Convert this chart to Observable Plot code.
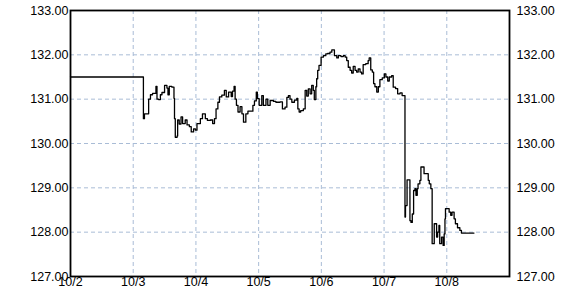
<!DOCTYPE html>
<html>
<head>
<meta charset="utf-8">
<script src="https://cdn.jsdelivr.net/npm/d3@7"></script>
<script src="https://cdn.jsdelivr.net/npm/@observablehq/plot@0.6"></script>
<style>
  html, body { margin: 0; padding: 0; background: #fff; }
  #chart svg { display: block; }
</style>
</head>
<body>
<div id="chart"></div>
<script>
// Hours since 10/2 00:00
const hours = [
  0.0, 27.9, 28.3, 29.9, 30.6, 31.4, 32.7, 33.1, 33.7, 34.4, 35.0, 36.0, 36.9, 37.3, 37.8, 38.8,
  39.6, 39.8, 40.1, 40.8, 41.0, 41.6, 42.3, 42.9, 43.9, 44.6, 45.5, 46.2, 47.1, 47.8, 48.4, 49.7,
  50.5, 51.6, 52.4, 53.5, 54.4, 55.1, 55.7, 56.4, 57.0, 57.9, 58.9, 59.6, 60.5, 61.5, 62.0, 62.6,
  63.0, 63.5, 64.1, 64.9, 65.6, 66.2, 67.1, 67.9, 69.1, 69.8, 70.4, 71.1, 71.5, 72.2, 73.2, 73.8,
  74.8, 75.5, 76.4, 77.7, 78.6, 80.2, 81.1, 82.1, 82.8, 83.4, 84.0, 84.7, 85.7, 86.6, 87.0, 87.5,
  88.1, 89.1, 89.8, 90.4, 91.0, 91.7, 92.3, 92.9, 93.3, 93.9, 94.2, 94.6, 95.1, 95.9, 96.8, 97.7,
  98.4, 99.3, 100.0, 101.0, 101.9, 102.5, 103.5, 104.4, 105.1, 105.7, 106.3, 107.0, 107.6, 108.2,
  108.9, 109.5, 110.1, 110.8, 111.4, 112.0, 113.0, 113.9, 114.3, 114.9, 115.5, 116.0, 116.5, 117.2,
  117.8, 118.4, 119.3, 120.1, 120.7, 121.4, 122.0, 122.9, 123.5, 124.4, 125.2, 126.1, 126.9, 128.0,
  128.2, 128.8, 129.9, 130.3, 130.8, 131.3, 131.8, 132.2, 132.7, 133.0, 133.7, 134.1, 135.3, 136.9,
  137.3, 137.9, 138.4, 139.2, 140.1, 140.5, 141.0, 141.3, 142.0, 142.6, 143.0, 143.3, 143.5, 144.9,
  145.5, 146.0, 146.8, 147.3, 148.1, 149.0, 149.6, 154.4
];
const prices = [
  131.50, 130.56, 130.67, 131.00, 131.10, 131.13, 131.29, 131.00, 130.99, 131.10, 131.15, 131.31, 131.25, 131.10, 131.29, 131.27,
  131.02, 130.56, 130.14, 130.17, 130.53, 130.44, 130.60, 130.45, 130.53, 130.42, 130.38, 130.26, 130.33, 130.30, 130.45, 130.56,
  130.67, 130.56, 130.52, 130.53, 130.45, 130.56, 130.78, 130.93, 131.05, 131.09, 131.20, 131.05, 131.16, 131.06, 131.18, 131.29,
  131.00, 130.86, 130.71, 130.83, 130.67, 130.48, 130.67, 130.73, 130.73, 130.86, 130.96, 131.16, 131.01, 130.86, 131.08, 130.86,
  131.00, 130.86, 130.97, 130.95, 130.93, 130.94, 130.78, 130.82, 131.04, 131.08, 131.00, 130.93, 130.98, 131.02, 130.78, 130.71,
  130.74, 130.78, 131.20, 131.07, 131.23, 131.12, 131.31, 131.20, 130.99, 131.28, 131.46, 131.65, 131.76, 131.95, 131.98, 132.02,
  132.03, 132.06, 132.11, 131.98, 131.93, 131.98, 131.96, 131.98, 131.95, 131.87, 131.72, 131.65, 131.59, 131.74,
  131.65, 131.61, 131.68, 131.61, 131.57, 131.78, 131.80, 131.87, 131.93, 131.66, 131.61, 131.35, 131.28, 131.16,
  131.28, 131.44, 131.48, 131.57, 131.50, 131.41, 131.50, 131.53, 131.27, 131.24, 131.12, 131.14, 131.08, 128.34,
  128.60, 129.18, 128.26, 128.22, 128.41, 128.94, 128.98, 128.83, 128.98, 129.09, 129.17, 129.47, 129.32, 129.17,
  129.09, 128.98, 127.74, 128.19, 127.89, 128.00, 128.15, 127.74, 127.89, 127.70, 127.96, 128.30, 128.53, 128.45,
  128.38, 128.45, 128.30, 128.19, 128.10, 128.04, 127.98, 127.98
];
const dayTicks = [0, 24, 48, 72, 96, 120, 144];
const dayLabels = ["10/2", "10/3", "10/4", "10/5", "10/6", "10/7", "10/8"];
const priceTicks = [127, 128, 129, 130, 131, 132, 133];
const priceGrid = [128, 129, 130, 131, 132];

const data = hours.map((h, i) => ({h, p: prices[i]}));

const gridStyle = {stroke: "#a9bcd6", strokeOpacity: 1, strokeDasharray: "4,3", strokeWidth: 1};

const chart = Plot.plot({
  width: 580,
  height: 300,
  marginLeft: 70,
  marginRight: 71,
  marginTop: 10,
  marginBottom: 24,
  style: {fontFamily: "'Liberation Sans', Arial, sans-serif", fontSize: "12.5px", color: "#000", background: "#fff"},
  x: {domain: [0, 168], ticks: dayTicks},
  y: {domain: [127, 133], ticks: priceTicks},
  marks: [
    Plot.gridX(dayTicks.slice(1), gridStyle),
    Plot.gridY(priceGrid, gridStyle),
    Plot.line(data, {x: "h", y: "p", curve: "step-after", stroke: "#000", strokeWidth: 1.3}),
    Plot.frame({stroke: "#000", strokeWidth: 1.8}),
    Plot.axisY(priceTicks, {anchor: "left", tickSize: 0, tickPadding: 2, tickFormat: d => d.toFixed(2), label: null, fill: "#000"}),
    Plot.axisY(priceTicks, {anchor: "right", tickSize: 0, tickPadding: 7, tickFormat: d => d.toFixed(2), label: null, fill: "#000"}),
    Plot.axisX(dayTicks, {anchor: "bottom", tickSize: 0, tickPadding: 1, tickFormat: (d, i) => dayLabels[dayTicks.indexOf(d)], label: null, fill: "#000"})
  ]
});
document.getElementById("chart").appendChild(chart);
</script>
</body>
</html>
